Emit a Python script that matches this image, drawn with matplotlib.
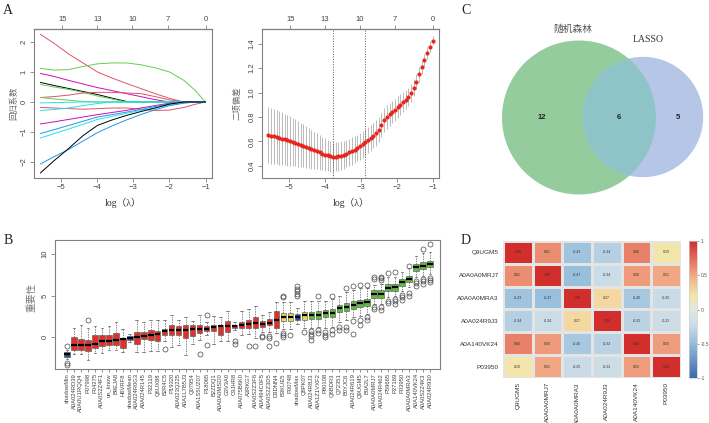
import numpy as np
import matplotlib
matplotlib.use('Agg')
import matplotlib.pyplot as plt
from matplotlib import font_manager as fm
from matplotlib.patches import Circle
from matplotlib.colors import LinearSegmentedColormap

plt.rcParams['font.family'] = ['Liberation Sans', 'Noto Sans CJK SC']
SERIF = ['Liberation Serif', 'Noto Sans CJK SC']
installed = {f.name for f in fm.fontManager.ttflist}
NARROW = 'Liberation Sans Narrow' if 'Liberation Sans Narrow' in installed else 'Liberation Sans'
W, H = 709, 423

# ---- A (left): lasso coefficient paths
path_lam = [-5.58, -5.2, -4.8, -4.4, -4.0, -3.6, -3.2, -2.8, -2.4, -2.0, -1.6, -1.3, -1.0]
coef_paths = [
    [2.25, 1.95, 1.60, 1.30, 1.00, 0.80, 0.62, 0.45, 0.28, 0.12, 0.00, 0.00, 0.00],
    [1.12, 1.06, 1.08, 1.18, 1.27, 1.30, 1.30, 1.24, 1.14, 1.00, 0.72, 0.40, 0.00],
    [0.95, 0.85, 0.72, 0.60, 0.48, 0.38, 0.28, 0.18, 0.08, 0.00, 0.00, 0.00, 0.00],
    [0.65, 0.55, 0.45, 0.35, 0.25, 0.13, 0.02, 0.00, 0.00, 0.00, 0.00, 0.00, 0.00],
    [0.58, 0.50, 0.42, 0.32, 0.20, 0.10, 0.00, 0.00, 0.00, 0.00, 0.00, 0.00, 0.00],
    [0.15, 0.18, 0.23, 0.30, 0.32, 0.32, 0.30, 0.28, 0.18, 0.07, 0.00, 0.00, 0.00],
    [0.15, 0.10, 0.06, 0.02, 0.00, 0.00, 0.00, 0.00, 0.00, 0.00, 0.00, 0.00, 0.00],
    [-0.03, -0.02, -0.01, 0.00, 0.00, 0.00, 0.00, 0.00, 0.00, 0.00, 0.00, 0.00, 0.00],
    [-0.18, -0.20, -0.22, -0.24, -0.22, -0.20, -0.20, -0.24, -0.28, -0.27, -0.18, -0.08, 0.00],
    [-0.28, -0.25, -0.20, -0.12, -0.05, 0.00, 0.00, 0.00, 0.00, 0.00, 0.00, 0.00, 0.00],
    [-0.73, -0.66, -0.58, -0.50, -0.42, -0.35, -0.28, -0.20, -0.12, -0.04, 0.00, 0.00, 0.00],
    [-1.05, -0.92, -0.78, -0.64, -0.50, -0.42, -0.34, -0.25, -0.15, -0.06, 0.00, 0.00, 0.00],
    [-1.20, -1.05, -0.90, -0.74, -0.58, -0.48, -0.38, -0.28, -0.19, -0.10, -0.03, 0.00, 0.00],
    [-2.06, -1.82, -1.58, -1.30, -1.02, -0.80, -0.60, -0.42, -0.26, -0.12, -0.04, 0.00, 0.00],
    [-2.36, -1.95, -1.55, -1.12, -0.78, -0.60, -0.45, -0.32, -0.20, -0.07, 0.00, 0.00, 0.00],
]
path_colors = ['#DF536B', '#61D04F', '#CD0BBC', 'black', '#61D04F', '#DF536B', '#61D04F',
               '#28E2E5', '#DF536B', '#28E2E5', '#CD0BBC', '#2297E6', '#28E2E5', '#2297E6', 'black']
df_ticks = [-4.97, -4.0, -3.03, -2.05, -1.0]
df_labels = ['15', '13', '10', '7', '0']

# ---- A (right): cross-validation binomial deviance
cv_lam = np.linspace(-5.58, -1.0, 62)
cv_mean = [0.650, 0.645, 0.640, 0.634, 0.628, 0.622, 0.616, 0.609, 0.602, 0.595,
           0.588, 0.580, 0.572, 0.563, 0.554, 0.545, 0.536, 0.527, 0.518, 0.509,
           0.500, 0.492, 0.485, 0.479, 0.475, 0.476, 0.479, 0.484, 0.491, 0.500,
           0.510, 0.521, 0.533, 0.546, 0.560, 0.575, 0.591, 0.608, 0.626, 0.646,
           0.668, 0.694, 0.735, 0.775, 0.800, 0.820, 0.840, 0.860, 0.880, 0.900,
           0.920, 0.940, 0.965, 0.995, 1.040, 1.090, 1.150, 1.205, 1.265, 1.325,
           1.375, 1.425]
cv_sd = [0.230, 0.228, 0.225, 0.222, 0.219, 0.215, 0.211, 0.207, 0.203, 0.198,
         0.193, 0.188, 0.182, 0.176, 0.170, 0.165, 0.159, 0.153, 0.148, 0.143,
         0.138, 0.134, 0.130, 0.126, 0.123, 0.121, 0.119, 0.117, 0.115, 0.114,
         0.113, 0.112, 0.111, 0.110, 0.109, 0.108, 0.107, 0.106, 0.105, 0.104,
         0.103, 0.102, 0.100, 0.098, 0.096, 0.094, 0.092, 0.090, 0.088, 0.085,
         0.082, 0.079, 0.076, 0.072, 0.068, 0.064, 0.060, 0.056, 0.052, 0.048,
         0.044, 0.040]

# ---- B: Boruta importance
box_names = ['shadowMin', 'A0A024RD39', 'A0A0U1RQQ4', 'P07998', 'P04275', 'A0A0S2Z4F1',
             'un_know', 'B9EJA8', 'H6VRF8', 'shadowMean', 'A0A024R0G3', 'A0A024R145',
             'P32119', 'Q6UX88', 'B2R4C5', 'P19320', 'A0A023Q225', 'A0A1L7B5J3', 'Q07954',
             'A0A1S5UZ07', 'P18065', 'B2ZDQ1', 'A0A0A0MSD0', 'G3V3A0', 'C9JHR8',
             'A0A075B6K0', 'A3RKG7', 'A0A0S2Z3F6', 'A0A494C0F5', 'A0A0S2Z3D5', 'D3DNN4',
             'B3KUE5', 'P00748', 'shadowMax', 'Q8PK07', 'A0A024R8J3', 'A0A1Z1VXF2',
             'P80108', 'Q8BDR3', 'Q72351', 'B0YJC6', 'A0A024R619', 'Q9UGM5', 'B0A2L7',
             'A0A0A0MRJ7', 'A0A024R462', 'P59665', 'P27169', 'P03950', 'A0A0A0MRA3',
             'A0A140VK24', 'A0A0S2Z4K3', 'A0A024R930']
box_status = ['S'] + ['R'] * 8 + ['S'] + ['R'] * 21 + ['T', 'T', 'S', 'T'] + ['C'] * 18
box_med = [-2.1, -1.0, -1.0, -1.0, -0.8, -0.5, -0.5, -0.4, -0.2, -0.1, -0.05, 0.1, 0.3, 0.4,
           0.7, 0.8, 0.8, 0.9, 1.0, 1.0, 1.0, 1.2, 1.3, 1.3, 1.3, 1.5, 1.6, 1.7, 1.55, 1.75,
           2.0, 2.4, 2.4, 2.45, 2.6, 2.65, 2.7, 2.85, 2.9, 3.45, 3.65, 3.85, 4.05, 4.17,
           5.2, 5.2, 5.95, 6.0, 6.6, 7.0, 8.45, 8.6, 8.8]
box_q1 = [-2.35, -1.6, -1.5, -1.7, -1.3, -1.1, -1.0, -1.0, -1.3, -0.3, -0.8, -0.2, -0.4, -0.5,
          0.3, 0.2, 0.3, -0.1, 0.1, 0.5, 0.7, 0.7, 0.3, 0.6, 1.1, 1.1, 1.1, 1.1, 1.2, 1.4,
          1.1, 1.9, 1.9, 2.1, 2.1, 2.2, 2.2, 2.4, 2.4, 3.0, 3.2, 3.4, 3.6, 3.8,
          4.75, 4.75, 5.5, 5.55, 6.2, 6.6, 8.0, 8.2, 8.4]
box_q3 = [-1.8, 0.0, -0.2, -0.3, 0.2, 0.3, 0.3, 0.5, -0.1, 0.1, 0.6, 0.6, 0.9, 0.7,
          1.0, 1.4, 1.3, 1.5, 1.4, 1.4, 1.3, 1.5, 1.5, 1.9, 1.5, 1.8, 2.0, 2.4, 1.9, 2.2,
          3.2, 2.9, 2.9, 2.8, 3.0, 3.0, 3.1, 3.3, 3.4, 3.9, 4.1, 4.3, 4.5, 4.6,
          5.65, 5.65, 6.4, 6.45, 7.0, 7.35, 8.8, 9.0, 9.2]
box_lo = [-2.6, -2.1, -2.1, -2.8, -1.9, -1.9, -1.5, -1.5, -1.8, -0.6, -1.8, -1.8, -1.7, -1.7,
          -0.5, -1.2, -1.0, -2.2, -0.8, -0.3, 0.3, -0.8, -0.5, -0.5, 0.8, 0.3, 0.4, -0.1, 0.6, 0.6,
          0.5, 1.0, 1.0, 1.6, 1.1, 1.1, 1.2, 1.1, 1.2, 1.8, 2.1, 2.4, 2.5, 2.8,
          4.0, 4.0, 4.8, 4.9, 5.5, 6.0, 7.2, 7.4, 7.6]
box_hi = [-1.6, 1.1, 1.5, 1.1, 1.3, 1.1, 1.3, 1.8, 1.0, 0.4, 2.1, 1.8, 2.1, 2.0,
          2.0, 2.6, 2.1, 2.4, 1.9, 2.6, 1.8, 2.5, 2.4, 3.1, 1.8, 3.1, 3.4, 3.8, 2.6, 3.0,
          4.2, 4.2, 4.2, 3.5, 4.4, 4.3, 4.4, 4.3, 4.6, 5.0, 5.4, 5.7, 5.9, 5.9,
          6.3, 6.4, 7.3, 7.3, 7.9, 8.3, 9.8, 10.1, 10.3]
box_out = [[-3.15, -3.4, -1.1], [], [], [2.1], [], [], [], [], [], [], [], [], [], [],
           [-1.4], [], [], [], [], [-2.0], [-1.0, 2.6], [], [], [], [-0.5, -0.8], [], [-1.1], [-1.1],
           [0.15, 0.0], [0.1, -0.1, -1.05], [-0.7], [4.8, 5.0, 0.5, 0.2, 0.0], [0.3],
           [4.9, 5.2, 5.5, 5.8, 6.1], [0.6], [0.7, 0.4, 0.1, -0.3], [4.9, 0.8, 0.5],
           [0.6, 0.3, 0.0], [4.9, 0.8, 0.4], [1.2, 0.9], [5.9, 1.2, 0.8], [6.2, 1.9, 0.4],
           [6.3, 2.0, 1.5], [6.3, 2.4, 2.1], [7.2, 6.95, 3.65, 3.4], [7.3, 7.1, 6.9, 3.6, 3.3],
           [7.7, 4.4, 4.1], [7.8, 4.6, 4.3, 4.0], [5.1, 4.8, 4.5], [8.6, 5.3, 4.9],
           [6.8, 6.5, 6.2], [10.6, 7.0, 6.7, 6.4], [11.2, 7.1, 6.9, 6.6]]
status_colors = {'S': '#2B4E9E', 'R': '#E5302A', 'T': '#E6DE4C', 'C': '#5DBE3A'}

# ---- C: Venn counts
venn_labels = ['随机森林', 'LASSO']
rf_only, both, lasso_only = 12, 6, 5

# ---- D: correlation matrix
cor_genes = ['Q9UGM5', 'A0A0A0MRJ7', 'A0A0A0MRA3', 'A0A024R9J3', 'A0A140VK24', 'P03950']
cor_vals = [[1.00, 0.61, -0.43, -0.34, 0.66, 0.19],
            [0.61, 1.00, -0.47, -0.24, 0.56, 0.51],
            [-0.43, -0.47, 1.00, 0.27, -0.40, -0.25],
            [-0.34, -0.24, 0.27, 1.00, -0.32, -0.22],
            [0.66, 0.56, -0.40, -0.32, 1.00, 0.55],
            [0.19, 0.51, -0.25, -0.22, 0.55, 1.00]]


def rect(x0, y0, x1, y1):
    return [x0 / W, 1 - y1 / H, (x1 - x0) / W, (y1 - y0) / H]


def ftext(x, y, s, **kw):
    fig.text(x / W, 1 - y / H, s, ha='center', va='center', **kw)


def r_style(ax, size=5.5):
    for s in ax.spines.values():
        s.set_color('#808080')
        s.set_linewidth(0.8)
    ax.tick_params(colors='#808080', labelcolor='#444444', labelsize=size,
                   length=3, width=0.6, pad=1.5)
    ax.tick_params(axis='y', labelrotation=90)
    for t in ax.get_yticklabels():
        t.set_va('center')


fig = plt.figure(figsize=(W / 100, H / 100), dpi=100)

# A left
ax1 = fig.add_axes(rect(34, 29, 212, 178))
for vals, col in zip(coef_paths, path_colors):
    ax1.plot(path_lam, vals, color=col, lw=0.7)
ax1.set_xlim(-5.76, -0.82)
ax1.set_ylim(-2.53, 2.43)
ax1.set_xticks([-5, -4, -3, -2, -1])
ax1.set_yticks([-2, -1, 0, 1, 2])
r_style(ax1)
top1 = ax1.secondary_xaxis('top')
top1.set_xticks(df_ticks, labels=df_labels)
top1.tick_params(colors='#808080', labelcolor='#444444', labelsize=5.5, length=3, width=0.6, pad=1.5)

# A right
ax2 = fig.add_axes(rect(262, 29, 439, 178))
ax2.errorbar(cv_lam, cv_mean, yerr=cv_sd, fmt='o', color='#E8261F', ms=3.0, mew=0,
             ecolor='#B0B0B0', elinewidth=0.6, capsize=1.4, capthick=0.5)
i_min = int(np.argmin(cv_mean))
thr = cv_mean[i_min] + cv_sd[i_min]
i_1se = max(i for i in range(len(cv_mean)) if cv_mean[i] <= thr)
for i in (i_min, i_1se):
    ax2.axvline(cv_lam[i], color='#555555', ls=':', lw=0.7)
ax2.set_xlim(-5.76, -0.82)
ax2.set_ylim(0.3, 1.52)
ax2.set_xticks([-5, -4, -3, -2, -1])
ax2.set_yticks([0.4, 0.6, 0.8, 1.0, 1.2, 1.4])
r_style(ax2)
top2 = ax2.secondary_xaxis('top')
top2.set_xticks(df_ticks, labels=df_labels)
top2.tick_params(colors='#808080', labelcolor='#444444', labelsize=5.5, length=3, width=0.6, pad=1.5)

ftext(123, 203, 'log（λ）', family=SERIF, fontsize=7, color='#333333')
ftext(351, 203, 'log（λ）', family=SERIF, fontsize=7, color='#333333')
ftext(14, 103, '回归系数', fontsize=6, color='#666666', rotation=90)
ftext(237, 103, '二项偏差', fontsize=6, color='#666666', rotation=90)

# B
ax3 = fig.add_axes(rect(55, 240, 440, 369))
stats = []
for i in range(len(box_names)):
    stats.append(dict(med=box_med[i], q1=box_q1[i], q3=box_q3[i], whislo=box_lo[i],
                      whishi=box_hi[i], fliers=box_out[i]))
pos = np.arange(len(box_names))
bp = ax3.bxp(stats, positions=pos, widths=0.78, patch_artist=True,
             boxprops=dict(edgecolor='#666666', lw=0.5),
             medianprops=dict(color='black', lw=1.6),
             whiskerprops=dict(color='#555555', lw=0.5, ls=(0, (2, 1.5))),
             capprops=dict(color='#555555', lw=0.5),
             flierprops=dict(marker='o', mfc='none', mec='#444444', ms=3.6, mew=0.5))
for patch, st in zip(bp['boxes'], box_status):
    patch.set_facecolor(status_colors[st])
ax3.set_xlim(-1.72, 53.43)
ax3.set_ylim(-3.85, 11.7)
ax3.set_yticks([0, 5, 10])
ax3.set_xticks(pos, labels=box_names)
r_style(ax3)
ax3.tick_params(axis='x', labelrotation=90, labelsize=4.2, length=2, pad=1)
ftext(32, 297, '重要性', fontsize=7, color='#777777', rotation=90)

# C
ax5 = fig.add_axes(rect(480, 0, 709, 210))
ax5.set_xlim(480, 709)
ax5.set_ylim(210, 0)
ax5.set_aspect('equal')
ax5.axis('off')
k = 18.15
r_rf = k * np.sqrt(rf_only + both)
r_la = k * np.sqrt(lasso_only + both)
c_rf = Circle((579, 117.5), r_rf, color='#94CC9E', lw=0)
ax5.add_patch(c_rf)
ax5.add_patch(Circle((643, 117), r_la, color='#B6C6E6', lw=0))
inter = Circle((643, 117), r_la, color='#8EC4C8', lw=0)
ax5.add_patch(inter)
inter.set_clip_path(c_rf)
ax5.text(542, 117, str(rf_only), ha='center', va='center', fontsize=5.5, weight='bold', color='#222222')
ax5.text(619, 117, str(both), ha='center', va='center', fontsize=5.5, weight='bold', color='#222222')
ax5.text(678, 117, str(lasso_only), ha='center', va='center', fontsize=5.5, weight='bold', color='#222222')
ax5.text(573, 29, venn_labels[0], ha='center', va='center', fontsize=7, color='#555555')
ax5.text(648, 40, venn_labels[1], ha='center', va='center', fontsize=7, color='#333333', family=SERIF)

# D
cmap = LinearSegmentedColormap.from_list('cor', [(0, '#3A6CAD'), (0.25, '#93BCDB'), (0.38, '#CADCE6'),
                                                 (0.5, '#E2E8E2'), (0.6, '#F4E6A8'), (0.75, '#F2A986'),
                                                 (1, '#D22E2B')])
ax4 = fig.add_axes(rect(503, 241, 681, 378))
mesh = ax4.pcolormesh(np.array(cor_vals), cmap=cmap, vmin=-1, vmax=1,
                      edgecolors='#E4E4E4', lw=0.8)
for r in range(len(cor_genes)):
    for c in range(len(cor_genes)):
        ax4.text(c + 0.5, r + 0.5, '%.2f' % cor_vals[r][c], ha='center', va='center',
                 fontsize=2.6, color='#333333')
ax4.set_xlim(0, 6)
ax4.set_ylim(6, 0)
ax4.set_xticks(np.arange(6) + 0.5, labels=cor_genes, rotation=90, family=NARROW)
ax4.set_yticks(np.arange(6) + 0.5, labels=cor_genes, family=NARROW)
lab_size = 5.8 if NARROW != 'Liberation Sans' else 4.6
ax4.tick_params(length=0, labelsize=lab_size, labelcolor='#333333', pad=3)
for s in ax4.spines.values():
    s.set_visible(False)
cax = fig.add_axes(rect(689, 241, 697, 378))
cb = fig.colorbar(mesh, cax=cax, ticks=[-1, -0.5, 0, 0.5, 1])
cb.ax.set_yticklabels(['-1', '-0.5', '0', '0.5', '1'])
cb.ax.tick_params(labelsize=3.5, length=1.5, width=0.4, colors='#555555', pad=1)
cb.outline.set_edgecolor('#CCCCCC')
cb.outline.set_linewidth(0.5)

# panel letters
for letter, x, y in [('A', 8, 10), ('B', 8, 240), ('C', 466, 10), ('D', 466, 240)]:
    ftext(x, y, letter, family=SERIF, fontsize=10, color='#222222')

fig.savefig('out.png', dpi=100)
